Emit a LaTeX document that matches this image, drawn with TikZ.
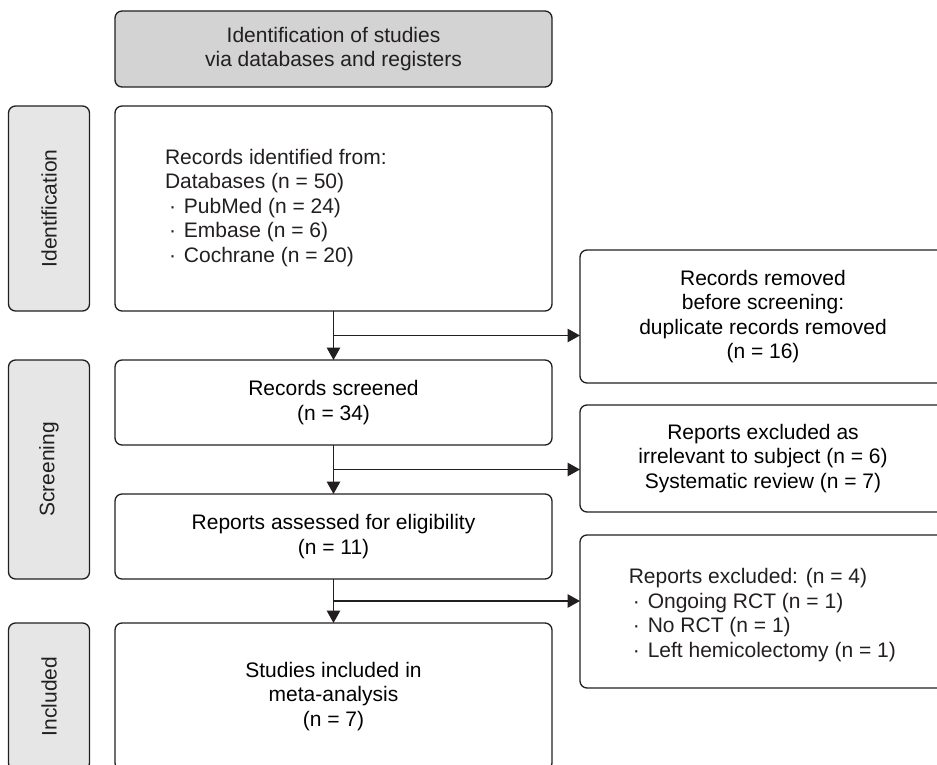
\documentclass[tikz,border=0pt]{standalone}
\usepackage{fontspec}
\setmainfont{Liberation Sans}
\usetikzlibrary{arrows.meta,calc}
\definecolor{linec}{HTML}{231F20}
\definecolor{topfill}{HTML}{D3D3D4}
\definecolor{sidefill}{HTML}{E6E6E7}
\tikzset{
  box/.style={draw=linec, line width=1.3pt, rounded corners=7pt, inner sep=0pt, outer sep=0pt, fill=white},
  topbox/.style={box, fill=topfill, align=center},
  sidebox/.style={box, fill=sidefill},
  txt/.style={inner sep=0pt, outer sep=0pt, align=center, text=linec},
  ltxt/.style={inner sep=0pt, outer sep=0pt, align=left, text=linec, anchor=west},
  arr/.style={draw=linec, line width=1.3pt, -{Triangle[length=12.5pt,width=13.5pt]}},
}
\newcommand{\bul}{\hspace*{4pt}\textperiodcentered\hspace*{8pt}}
\begin{document}
\begin{tikzpicture}[x=1pt,y=-1pt,font=\fontsize{21}{24.5}\selectfont]
\useasboundingbox (0,0) rectangle (937,765);
\clip (0,0) rectangle (937,765);
% top header
\node[topbox, minimum width=437pt, minimum height=76pt] (top) at (333.5,49) {};
\node[txt] (toptxt) at (333.5,49) {Identification of studies\\via databases and registers};
% side labels
\node[sidebox, minimum width=81pt, minimum height=205pt] (sid) at (49,208.5) {};
\node[txt, rotate=90] (sidtxt) at (49,208.5) {Identification};
\node[sidebox, minimum width=81pt, minimum height=219pt] (sscr) at (49,469.5) {};
\node[txt, rotate=90] (sscrtxt) at (49,469.5) {Screening};
\node[sidebox, minimum width=81pt, minimum height=147pt] (sinc) at (49,696.5) {};
\node[txt, rotate=90] (sinctxt) at (49,696.5) {Included};
% main column
\node[box, minimum width=437pt, minimum height=205pt] (rec) at (333.5,208.5) {};
\node[ltxt] (rectxt) at (165,208) {Records identified from:\\Databases (n = 50)\\\bul PubMed (n = 24)\\\bul Embase (n = 6)\\\bul Cochrane (n = 20)};
\node[box, minimum width=437pt, minimum height=85pt, align=center] (scr) at (333.5,402.5) {Records screened\\(n = 34)};
\node[box, minimum width=437pt, minimum height=85pt, align=center] (ass) at (333.5,536.5) {Reports assessed for eligibility\\(n = 11)};
\node[box, minimum width=437pt, minimum height=147pt, align=center] (inc) at (333.5,696.5) {Studies included in\\meta-analysis\\(n = 7)};
% right column
\node[box, minimum width=366pt, minimum height=133pt, align=center] (rem) at (763,316.5) {Records removed\\before screening:\\duplicate records removed\\(n = 16)};
\node[box, minimum width=366pt, minimum height=107pt, align=center] (exa) at (763,458.5) {Reports excluded as\\irrelevant to subject (n = 6)\\Systematic review (n = 7)};
\node[box, minimum width=366pt, minimum height=153pt] (exb) at (763,611.5) {};
\node[ltxt] (exbtxt) at (628.8,615) {Reports excluded: (n = 4)\\\bul Ongoing RCT (n = 1)\\\bul No RCT (n = 1)\\\bul Left hemicolectomy (n = 1)};
% connectors
\draw[arr] (rec.south) -- (scr.north);
\draw[arr] (scr.south) -- (ass.north);
\draw[arr] (ass.south) -- (inc.north);
\coordinate (m1) at ($(rec.south)!0.5!(scr.north)$);
\coordinate (m2) at ($(scr.south)!0.5!(ass.north)$);
\coordinate (m3) at ($(ass.south)!0.5!(inc.north)$);
\draw[arr] (m1) -- (m1 -| rem.west);
\draw[arr] (m2) -- (m2 -| exa.west);
\draw[arr] (m3) -- (m3 -| exb.west);
\end{tikzpicture}
\end{document}
